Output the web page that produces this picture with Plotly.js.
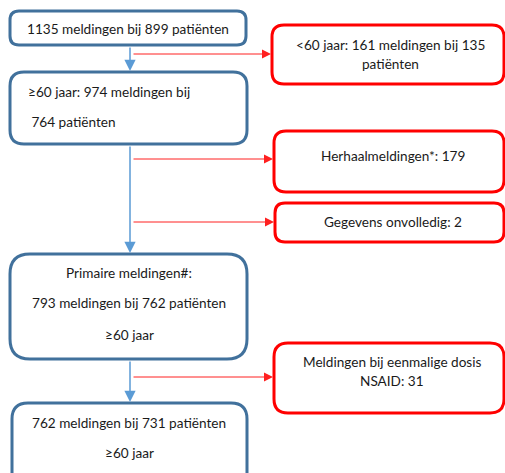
<!DOCTYPE html>
<html>
<head>
<meta charset="utf-8">
<script src="https://cdn.plot.ly/plotly-3.0.1.min.js"></script>
<style>html,body{margin:0;padding:0;background:#fff;}#chart{width:505px;height:473px;}</style>
</head>
<body>
<div id="chart"></div>
<script>
// ---- Flowchart content (texts / counts) ----
const mainBoxLines = [
  ["1135 meldingen bij 899 patiënten"],
  ["≥60 jaar: 974 meldingen bij", " 764 patiënten"],
  ["Primaire meldingen#:", "793 meldingen bij 762 patiënten", "≥60 jaar"],
  ["762 meldingen bij 731 patiënten", "≥60 jaar"]
];
const sideBoxLines = [
  ["<60 jaar: 161 meldingen bij 135", "patiënten"],
  ["Herhaalmeldingen*: 179"],
  ["Gegevens onvolledig: 2"],
  ["Meldingen bij eenmalige dosis", "NSAID: 31"]
];

// ---- Layout geometry (pixels) ----
const mainBoxes = [ // x0, y0, x1, y1, radius
  [10, 11, 246, 45, 9],
  [10, 72, 247, 144, 14],
  [10, 254, 247, 359, 20],
  [12, 403, 247, 492, 16]
];
const mainTextY = [[29], [92, 122], [273, 303, 335], [423, 453]];
const mainTextX = [128, 26, 129, 129];
const mainAlign = ["center", "left", "center", "center"];

const sideBoxes = [
  [272, 25, 504, 84, 12],
  [274, 131, 504, 192, 12],
  [275, 203, 504, 242, 10],
  [274, 343, 504, 413, 14]
];
const sideTextY = [[45, 64], [156], [222], [362, 381]];
const sideTextX = [390, 393, 393, 392];

const blueArrows = [[130, 46, 130, 71], [130, 145, 130, 253], [130, 360, 130, 402]];
const redArrows = [[132, 54, 271, 54], [132, 159, 273, 159], [132, 222, 274, 222], [132, 377, 273, 377]];

function roundRect(b) {
  const [x0, y0, x1, y1, r] = b;
  return `M ${x0 + r},${y0} L ${x1 - r},${y0} Q ${x1},${y0} ${x1},${y0 + r} ` +
    `L ${x1},${y1 - r} Q ${x1},${y1} ${x1 - r},${y1} L ${x0 + r},${y1} ` +
    `Q ${x0},${y1} ${x0},${y1 - r} L ${x0},${y0 + r} Q ${x0},${y0} ${x0 + r},${y0} Z`;
}

const shapes = [];
const annotations = [];
const font = {family: "Lato, 'Open Sans', sans-serif", size: 13.6, color: "#1a1a1a"};

mainBoxes.forEach(b => shapes.push({type: "path", xref: "x", yref: "y", path: roundRect(b),
  line: {color: "#41719C", width: 3}, fillcolor: "rgba(0,0,0,0)"}));
sideBoxes.forEach(b => shapes.push({type: "path", xref: "x", yref: "y", path: roundRect(b),
  line: {color: "#FF0000", width: 3}, fillcolor: "rgba(0,0,0,0)"}));

mainBoxLines.forEach((lines, i) => lines.forEach((t, j) => annotations.push({
  xref: "x", yref: "y", x: mainTextX[i], y: mainTextY[i][j], text: t, showarrow: false,
  xanchor: mainAlign[i] === "left" ? "left" : "center", yanchor: "middle", font: font
})));
sideBoxLines.forEach((lines, i) => lines.forEach((t, j) => annotations.push({
  xref: "x", yref: "y", x: sideTextX[i], y: sideTextY[i][j], text: t, showarrow: false,
  xanchor: "center", yanchor: "middle", font: font
})));

blueArrows.forEach(a => annotations.push({
  xref: "x", yref: "y", axref: "x", ayref: "y", x: a[2], y: a[3], ax: a[0], ay: a[1],
  text: "", showarrow: true, arrowhead: 2, arrowsize: 1.5, arrowwidth: 1.5, arrowcolor: "#5B9BD5", standoff: 0, startstandoff: 0
}));
redArrows.forEach(a => annotations.push({
  xref: "x", yref: "y", axref: "x", ayref: "y", x: a[2], y: a[3], ax: a[0], ay: a[1],
  text: "", showarrow: true, arrowhead: 2, arrowsize: 1.8, arrowwidth: 1, arrowcolor: "#FF2020", standoff: 0, startstandoff: 0
}));

const layout = {
  width: 505, height: 473,
  margin: {l: 0, r: 0, t: 0, b: 0},
  paper_bgcolor: "#ffffff", plot_bgcolor: "#ffffff",
  xaxis: {range: [0, 505], visible: false, fixedrange: true},
  yaxis: {range: [473, 0], visible: false, fixedrange: true},
  showlegend: false,
  shapes: shapes,
  annotations: annotations
};
Plotly.newPlot("chart", [], layout, {displayModeBar: false, staticPlot: true});
</script>
</body>
</html>
